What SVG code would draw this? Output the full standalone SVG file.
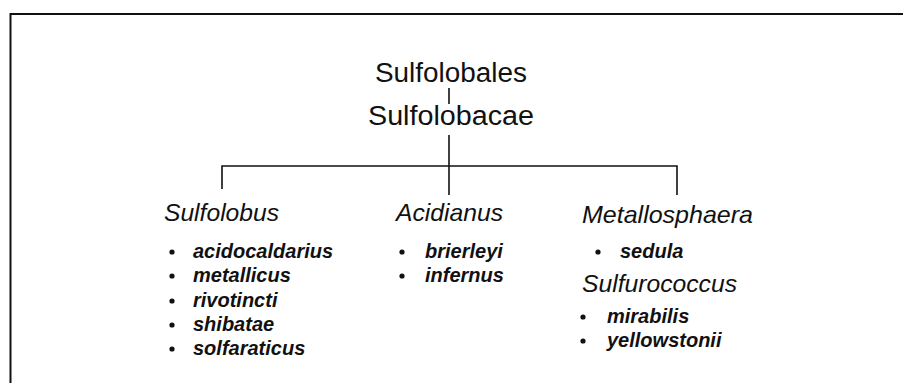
<svg xmlns="http://www.w3.org/2000/svg" width="903" height="383" viewBox="0 0 903 383">
<style>
.frame{fill:none;stroke:#111;stroke-width:2}
.ln{fill:none;stroke:#111;stroke-width:1.6}
.top{font-family:"Liberation Sans",Arial,sans-serif;font-size:27px;fill:#111;text-anchor:middle}
.genus{font-family:"Liberation Sans",Arial,sans-serif;font-size:24px;font-style:italic;fill:#111}
.sp{font-family:"Liberation Sans",Arial,sans-serif;font-size:20px;font-style:italic;font-weight:bold;fill:#111}
.dot{fill:#111}
</style>
<rect width="903" height="383" fill="#fff"/>
<path class="frame" d="M10.5,383 V14 H903"/>
<g id="connectors">
<path class="ln" d="M449,88 V104"/>
<path class="ln" d="M449,135 V195"/>
<path class="ln" d="M222,189 V166 H677 V195"/>
</g>
<g id="order"><text class="top" x="451" y="82" textLength="152" lengthAdjust="spacingAndGlyphs">Sulfolobales</text></g>
<g id="family"><text class="top" x="451" y="125" textLength="166" lengthAdjust="spacingAndGlyphs">Sulfolobacae</text></g>
<g id="sulfolobus">
<text class="genus" x="164" y="221" textLength="115" lengthAdjust="spacingAndGlyphs">Sulfolobus</text>
<circle class="dot" cx="172" cy="252" r="2.6"/><text class="sp" x="193" y="258">acidocaldarius</text>
<circle class="dot" cx="172" cy="276" r="2.6"/><text class="sp" x="193" y="282">metallicus</text>
<circle class="dot" cx="172" cy="301" r="2.6"/><text class="sp" x="193" y="307">rivotincti</text>
<circle class="dot" cx="172" cy="325" r="2.6"/><text class="sp" x="193" y="331">shibatae</text>
<circle class="dot" cx="172" cy="349" r="2.6"/><text class="sp" x="193" y="355">solfaraticus</text>
</g>
<g id="acidianus">
<text class="genus" x="396" y="221" textLength="107" lengthAdjust="spacingAndGlyphs">Acidianus</text>
<circle class="dot" cx="402" cy="252" r="2.6"/><text class="sp" x="425" y="258">brierleyi</text>
<circle class="dot" cx="402" cy="276" r="2.6"/><text class="sp" x="425" y="282">infernus</text>
</g>
<g id="metallosphaera">
<text class="genus" x="582" y="223" textLength="171" lengthAdjust="spacingAndGlyphs">Metallosphaera</text>
<circle class="dot" cx="598" cy="252" r="2.6"/><text class="sp" x="620" y="258">sedula</text>
</g>
<g id="sulfurococcus">
<text class="genus" x="582" y="292" textLength="155" lengthAdjust="spacingAndGlyphs">Sulfurococcus</text>
<circle class="dot" cx="583" cy="317" r="2.6"/><text class="sp" x="607" y="323">mirabilis</text>
<circle class="dot" cx="583" cy="341" r="2.6"/><text class="sp" x="607" y="347">yellowstonii</text>
</g>
</svg>
